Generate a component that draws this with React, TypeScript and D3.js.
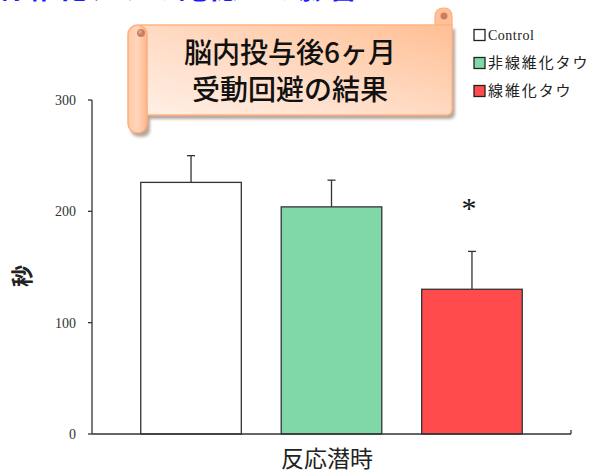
import React from "react";
import * as d3 from "d3";

const categories = ["Control", "非線維化タウ", "線維化タウ"];
const values = [226, 204, 130];
const errors = [24, 24, 34];
const barColors = ["#ffffff", "#80d8a8", "#ff4b4b"];
const yTicks = [0, 100, 200, 300];
const sigMarks = ["", "", "*"];
const titleLines = ["脳内投与後6ヶ月", "受動回避の結果"];
const xLabel = "反応潜時";
const yLabel = "秒";
const topText = "線維化タウの記憶への影響";

const W = 590, H = 470;
const x0 = 92, x1 = 571, yTop = 100, yBot = 434;

export default function App() {
  const x = d3.scaleBand<string>().domain(categories).range([x0, x1]).paddingInner(0.284).paddingOuter(0.347);
  const y = d3.scaleLinear().domain([0, 300]).range([yBot, yTop]);
  const jp = "'Noto Sans CJK JP', 'Noto Sans', sans-serif";
  const serif = "'Liberation Serif', 'Times New Roman', serif";
  return (
    <svg width={W} height={H} viewBox={`0 0 ${W} ${H}`} style={{ position: "absolute", left: 0, top: 0, display: "block", background: "#fff" }}>
      <defs>
        <linearGradient id="panelG" x1="1" y1="0" x2="0" y2="1">
          <stop offset="0" stopColor="#ffbf94" />
          <stop offset="0.55" stopColor="#ffdcc6" />
          <stop offset="1" stopColor="#fff0e6" />
        </linearGradient>
        <linearGradient id="rollG" x1="0" y1="0" x2="1" y2="0">
          <stop offset="0" stopColor="#ffcaa6" />
          <stop offset="0.5" stopColor="#ffd6bb" />
          <stop offset="1" stopColor="#ffb68a" />
        </linearGradient>
        <filter id="blur" x="-10%" y="-10%" width="120%" height="130%">
          <feGaussianBlur stdDeviation="1.5" />
        </filter>
      </defs>

      {/* cut-off heading at top */}
      <text x={-2} y={-2.5} fontFamily={jp} fontWeight="bold" fontSize={30} fill="#1a1aff">{topText}</text>

      {/* scroll banner */}
      <g>
        <g filter="url(#blur)" opacity={0.6} transform="translate(3,4)">
          <path d="M140,25 H452 V109 Q452,115 446,115 H147 V126 Q147,133 138,133 Q128,133 128,126 V34 Q128,25 137,25 Z" fill="#8a6a5a" />
        </g>
        <path d="M435,25 V17 Q435,8 444,8 Q452,8 452,17 V25 Z" fill="#ffc09a" stroke="#ffad7e" strokeWidth={1.2} />
        <circle cx={444} cy={16} r={3.5} fill="#c88060" />
        <path d="M140,25 H452 V109 Q452,115 446,115 H147 Z" fill="url(#panelG)" stroke="#ffb484" strokeWidth={1.5} />
        <rect x={128} y={25} width={19} height={108} rx={9.5} fill="url(#rollG)" stroke="#ffad7e" strokeWidth={1.5} />
        <circle cx={141} cy={33} r={4} fill="#c88060" />
        <circle cx={140} cy={32} r={2} fill="#e0a080" />
        {titleLines.map((t, i) => (
          <text key={i} x={290} y={63 + i * 37} textAnchor="middle" fontFamily={jp} fontWeight={500} fontSize={28} fill="#111">{t}</text>
        ))}
      </g>

      {/* legend */}
      {categories.map((c, i) => (
        <g key={c} transform={`translate(474,${35 + i * 28})`}>
          <rect x={0} y={-5.5} width={11} height={11} fill={barColors[i]} stroke="#222" strokeWidth={1.3} />
          <text x={14} y={5} fontFamily={i === 0 ? serif : jp} fontSize={i === 0 ? 14 : 15} letterSpacing={i === 0 ? 0.5 : 1.9} fill="#222">{c}</text>
        </g>
      ))}

      {/* y axis */}
      <line x1={x0} x2={x0} y1={yTop} y2={yBot} stroke="#333" strokeWidth={1.3} />
      {yTicks.map((t) => (
        <g key={t}>
          <line x1={x0 - 4} x2={x0} y1={y(t)} y2={y(t)} stroke="#333" strokeWidth={1.3} />
          <text x={76} y={y(t) + 5} textAnchor="end" fontFamily={serif} fontSize={14} fill="#333">{t}</text>
        </g>
      ))}
      <text transform={`translate(30,276) rotate(-90)`} textAnchor="middle" fontFamily={jp} fontWeight="bold" fontSize={22} fill="#222">{yLabel}</text>

      {/* bars */}
      {categories.map((c, i) => {
        const bx = x(c)!;
        const cx = bx + x.bandwidth() / 2;
        return (
          <g key={c}>
            <line x1={cx} x2={cx} y1={y(values[i])} y2={y(values[i] + errors[i])} stroke="#333" strokeWidth={1.3} />
            <line x1={cx - 4} x2={cx + 4} y1={y(values[i] + errors[i])} y2={y(values[i] + errors[i])} stroke="#333" strokeWidth={1.3} />
            <rect x={bx} y={y(values[i])} width={x.bandwidth()} height={yBot - y(values[i])} fill={barColors[i]} stroke="#333" strokeWidth={1.3} />
            {sigMarks[i] && (
              <text x={cx - 3} y={y(values[i] + errors[i]) - 33} textAnchor="middle" fontFamily={serif} fontSize={30} fill="#111">{sigMarks[i]}</text>
            )}
          </g>
        );
      })}

      {/* x axis */}
      <line x1={x0} x2={x1} y1={yBot} y2={yBot} stroke="#333" strokeWidth={1.3} />
      <line x1={x1} x2={x1} y1={yBot - 4} y2={yBot} stroke="#333" strokeWidth={1.3} />
      <text x={327} y={467} textAnchor="middle" fontFamily={jp} fontSize={23} fill="#222">{xLabel}</text>
    </svg>
  );
}
